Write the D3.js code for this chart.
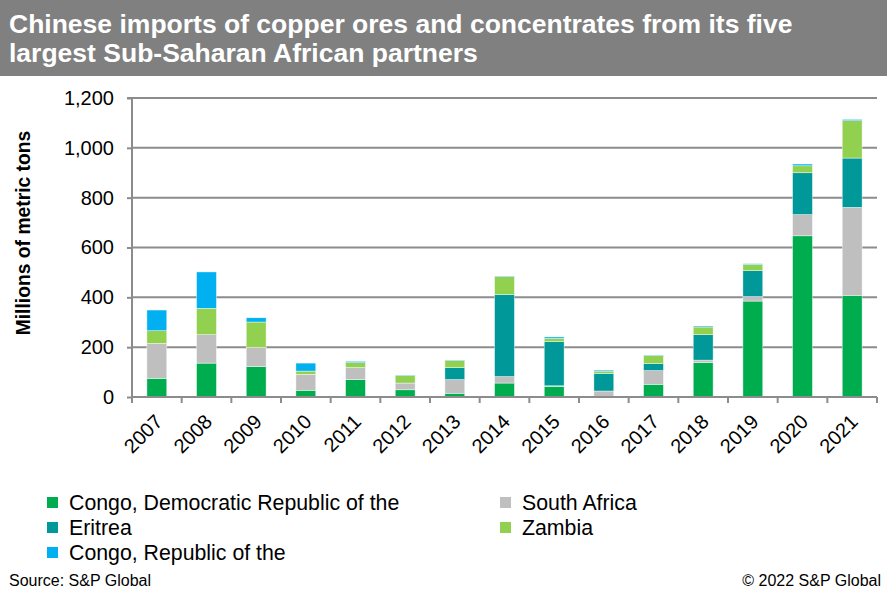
<!DOCTYPE html>
<html><head><meta charset="utf-8">
<script src="https://cdn.jsdelivr.net/npm/d3@7"></script>
<style>body{margin:0;background:#fff;}svg{display:block;font-family:"Liberation Sans",Arial,sans-serif;}</style>
</head><body>
<svg id="c" width="887" height="598"></svg>
<script>
const years = ["2007","2008","2009","2010","2011","2012","2013","2014","2015","2016","2017","2018","2019","2020","2021"];
const drc        = [75,136,122,27,70,29,15,56,43,2,51,138,385,647,408];
const southAfrica= [140,114,77,64,48,27,55,26,2,22,55,10,18,85,353];
const eritrea    = [0,0,0,0,0,0,48,329,177,71,28,102,104,168,198];
const zambia     = [51,106,102,13,20,30,28,72,13,9,32,31,25,28,150];
const congoRep   = [83,146,17,32,5,2,2,2,6,4,2,4,3,7,5];
const seriesNames = ["Congo, Democratic Republic of the","South Africa","Eritrea","Zambia","Congo, Republic of the"];
const seriesColors = ["#00AD4E","#BFBFBF","#009899","#92D050","#00B0F0"];
const yTicks = [0,200,400,600,800,1000,1200];

const svg = d3.select("#c");
// title band
svg.append("rect").attr("x",0).attr("y",0).attr("width",887).attr("height",76).attr("fill","#808080");
svg.append("text").attr("x",9).attr("y",33).attr("fill","#fff").attr("font-weight","bold").attr("font-size",26.5)
  .text("Chinese imports of copper ores and concentrates from its five");
svg.append("text").attr("x",9).attr("y",62).attr("fill","#fff").attr("font-weight","bold").attr("font-size",26.5)
  .text("largest Sub-Saharan African partners");

const x0=132, x1=877, yTop=98, yBot=397;
const x = d3.scaleBand().domain(years).range([x0,x1]).paddingInner(0.6).paddingOuter(0.3);
const y = d3.scaleLinear().domain([0,1200]).range([yBot,yTop]);

// gridlines
svg.append("g").selectAll("line").data(yTicks.filter(d=>d>0)).join("line")
  .attr("x1",x0).attr("x2",x1).attr("y1",d=>y(d)).attr("y2",d=>y(d))
  .attr("stroke","#8c8c8c").attr("stroke-width",2);

// stacked bars
const rows = years.map((yr,i)=>({year:yr, s0:drc[i], s1:southAfrica[i], s2:eritrea[i], s3:zambia[i], s4:congoRep[i]}));
const stack = d3.stack().keys(["s0","s1","s2","s3","s4"])(rows);
svg.append("g").selectAll("g").data(stack).join("g").attr("fill",(d,i)=>seriesColors[i])
  .selectAll("rect").data(d=>d).join("rect")
  .attr("x",d=>x(d.data.year)).attr("width",x.bandwidth())
  .attr("y",d=>y(d[1])).attr("height",d=>Math.max(0,y(d[0])-y(d[1])))
  .attr("stroke","#ffffff").attr("stroke-width",0.6).attr("stroke-opacity",0.7);

// y axis
const yAxis = d3.axisLeft(y).tickValues(yTicks).tickSize(5).tickPadding(13).tickFormat(d3.format(","));
const gy = svg.append("g").attr("transform",`translate(${x0},0)`).call(yAxis);
gy.select(".domain").attr("stroke","#8c8c8c").attr("stroke-width",2).attr("d",`M-5,${yTop}H0V${yBot}`);
gy.selectAll(".tick line").attr("stroke","#8c8c8c").attr("stroke-width",2);
gy.selectAll(".tick text").attr("font-size",20).attr("fill","#000").attr("font-family","Liberation Sans, Arial, sans-serif");

// x axis
svg.append("line").attr("x1",x0).attr("x2",x1).attr("y1",yBot).attr("y2",yBot).attr("stroke","#8c8c8c").attr("stroke-width",2);
const bounds = d3.range(years.length+1).map(i=>x0 + i*(x1-x0)/years.length);
svg.append("g").selectAll("line").data(bounds).join("line")
  .attr("x1",d=>d).attr("x2",d=>d).attr("y1",yBot).attr("y2",yBot+6).attr("stroke","#8c8c8c").attr("stroke-width",2);
svg.append("g").selectAll("text").data(years).join("text")
  .attr("transform",d=>`translate(${x(d)+x.bandwidth()/2+2},${yBot+21}) rotate(-45)`)
  .attr("text-anchor","end").attr("font-size",20).attr("dy","0.35em").text(d=>d);

// y label
svg.append("text").attr("transform",`translate(30,233) rotate(-90)`)
  .attr("text-anchor","middle").attr("font-weight","bold").attr("font-size",19.3).text("Millions of metric tons");

// legend
const legPos = [[47,503],[500,503],[47,528],[500,528],[47,553]];
const legOrder = [0,1,2,3,4];
const lg = svg.append("g").selectAll("g").data(legOrder).join("g")
  .attr("transform",(d,i)=>`translate(${legPos[i][0]},${legPos[i][1]})`);
lg.append("rect").attr("x",0).attr("y",-6).attr("width",11).attr("height",11).attr("fill",d=>seriesColors[d]);
lg.append("text").attr("x",22).attr("dy","0.35em").attr("font-size",21.3).text(d=>seriesNames[d]);

// footer
svg.append("text").attr("x",9).attr("y",586).attr("font-size",16).text("Source: S&P Global");
svg.append("text").attr("x",881).attr("y",586).attr("text-anchor","end").attr("font-size",16).text("© 2022 S&P Global");
</script>
</body></html>
